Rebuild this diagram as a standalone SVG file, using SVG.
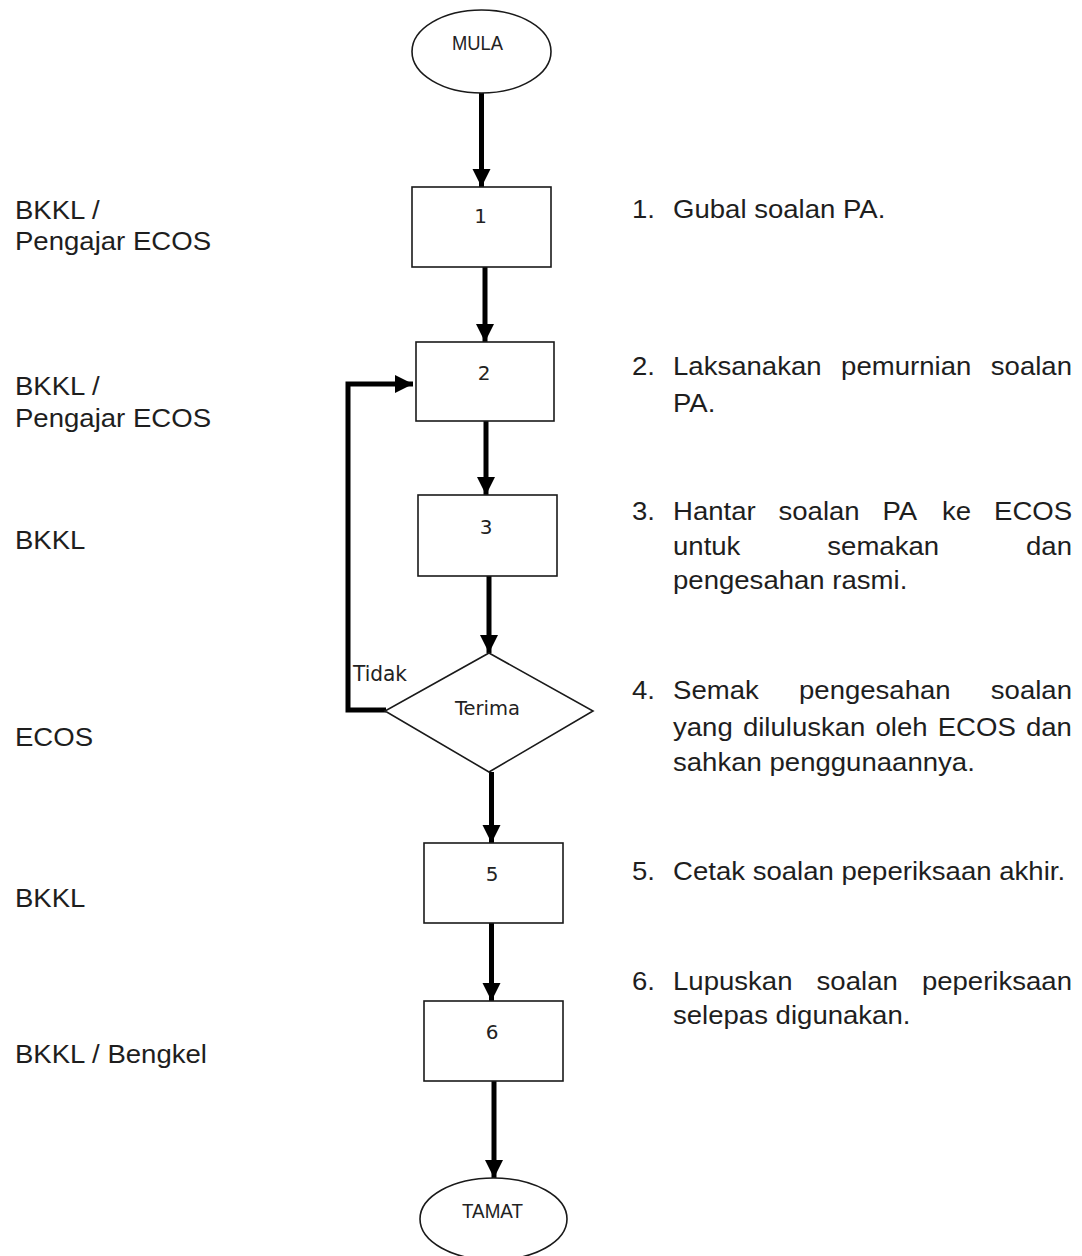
<svg xmlns="http://www.w3.org/2000/svg" width="1082" height="1256" viewBox="0 0 1082 1256">
  <style>
    .shape { fill: #ffffff; stroke: #1a1a1a; stroke-width: 1.6; }
    .flow { fill: none; stroke: #000000; stroke-width: 5; marker-end: url(#head); }
    .num { font-family: "DejaVu Sans", "Liberation Sans", sans-serif; font-size: 20px; fill: #222222; text-anchor: middle; }
    .term { font-family: "Liberation Sans", Arial, sans-serif; font-size: 20px; fill: #222222; text-anchor: middle; }
    .side { font-family: "Liberation Sans", Arial, sans-serif; font-size: 26px; fill: #1e1e1e; }
  </style>
  <defs>
    <marker id="head" markerUnits="userSpaceOnUse" markerWidth="20" markerHeight="20" refX="18" refY="9" orient="auto">
      <path d="M0,0 L18,9 L0,18 Z" fill="#000000"/>
    </marker>
  </defs>

  <rect width="1082" height="1256" fill="#ffffff"/>

  <!-- connectors -->
  <g id="connectors">
    <line class="flow" x1="481.5" y1="93" x2="481.5" y2="187"/>
    <line class="flow" x1="485" y1="267" x2="485" y2="342"/>
    <line class="flow" x1="486" y1="421" x2="486" y2="495"/>
    <line class="flow" x1="489" y1="576" x2="489" y2="653"/>
    <line class="flow" x1="491.5" y1="772" x2="491.5" y2="843"/>
    <line class="flow" x1="491.5" y1="923" x2="491.5" y2="1001"/>
    <line class="flow" x1="494" y1="1081" x2="494" y2="1178"/>
    <!-- rejection loop back to step 2 -->
    <polyline class="flow" points="386,710 348,710 348,384 413,384"/>
    <text x="353" y="681" font-family="'DejaVu Sans', 'Liberation Sans', sans-serif" font-size="22" fill="#222222" textLength="54" lengthAdjust="spacingAndGlyphs">Tidak</text>
  </g>

  <!-- flow nodes -->
  <g id="mula">
    <ellipse class="shape" cx="481.5" cy="51.5" rx="69.5" ry="41.5"/>
    <text class="term" x="477.5" y="50" font-size="19" textLength="51" lengthAdjust="spacingAndGlyphs">MULA</text>
  </g>
  <g id="step1">
    <rect class="shape" x="412" y="187" width="139" height="80"/>
    <text class="num" x="480.5" y="223">1</text>
  </g>
  <g id="step2">
    <rect class="shape" x="416" y="342" width="138" height="79"/>
    <text class="num" x="484" y="380">2</text>
  </g>
  <g id="step3">
    <rect class="shape" x="418" y="495" width="139" height="81"/>
    <text class="num" x="486" y="534">3</text>
  </g>
  <g id="terima">
    <polygon class="shape" points="489,653 593,711 489,772 385,711"/>
    <text class="num" x="487.5" y="715" textLength="65" lengthAdjust="spacingAndGlyphs">Terima</text>
  </g>
  <g id="step5">
    <rect class="shape" x="424" y="843" width="139" height="80"/>
    <text class="num" x="492" y="881">5</text>
  </g>
  <g id="step6">
    <rect class="shape" x="424" y="1001" width="139" height="80"/>
    <text class="num" x="492" y="1039">6</text>
  </g>
  <g id="tamat">
    <ellipse class="shape" cx="493.5" cy="1219" rx="73.5" ry="41"/>
    <text class="term" x="492.5" y="1218" font-size="20" textLength="61" lengthAdjust="spacingAndGlyphs">TAMAT</text>
  </g>

  <!-- responsible parties (left column) -->
  <g id="responsibility" transform="scale(1.06 1)">
    <text class="side" x="14.15" y="219">BKKL /</text>
    <text class="side" x="14.15" y="250">Pengajar ECOS</text>
    <text class="side" x="14.15" y="395">BKKL /</text>
    <text class="side" x="14.15" y="427">Pengajar ECOS</text>
    <text class="side" x="14.15" y="549">BKKL</text>
    <text class="side" x="14.15" y="746">ECOS</text>
    <text class="side" x="14.15" y="907">BKKL</text>
    <text class="side" x="14.15" y="1063">BKKL / Bengkel</text>
  </g>

  <!-- step descriptions (right column, justified lines set word by word) -->
  <g id="descriptions" transform="scale(1.06 1)">
    <text class="side" x="596.23" y="218">1.</text>
    <text class="side" x="634.91" y="218">Gubal soalan PA.</text>

    <text class="side" x="596.23" y="375">2.</text>
    <text class="side" y="375"><tspan x="634.91">Laksanakan</tspan><tspan x="793.49">pemurnian</tspan><tspan x="934.72">soalan</tspan></text>
    <text class="side" x="634.91" y="412">PA.</text>

    <text class="side" x="596.23" y="520">3.</text>
    <text class="side" y="520"><tspan x="634.91">Hantar</tspan><tspan x="734.43">soalan</tspan><tspan x="832.55">PA</tspan><tspan x="888.77">ke</tspan><tspan x="937.74">ECOS</tspan></text>
    <text class="side" y="555"><tspan x="634.91">untuk</tspan><tspan x="780.47">semakan</tspan><tspan x="967.92">dan</tspan></text>
    <text class="side" x="634.91" y="589">pengesahan rasmi.</text>

    <text class="side" x="596.23" y="699">4.</text>
    <text class="side" y="699"><tspan x="634.91">Semak</tspan><tspan x="753.77">pengesahan</tspan><tspan x="934.72">soalan</tspan></text>
    <text class="side" y="736"><tspan x="634.91">yang</tspan><tspan x="700.85">diluluskan</tspan><tspan x="825.94">oleh</tspan><tspan x="884.62">ECOS</tspan><tspan x="967.83">dan</tspan></text>
    <text class="side" x="634.91" y="771">sahkan penggunaannya.</text>

    <text class="side" x="596.23" y="880">5.</text>
    <text class="side" x="634.91" y="880">Cetak soalan peperiksaan akhir.</text>

    <text class="side" x="596.23" y="990">6.</text>
    <text class="side" y="990"><tspan x="634.91">Lupuskan</tspan><tspan x="770.38">soalan</tspan><tspan x="869.72">peperiksaan</tspan></text>
    <text class="side" x="634.91" y="1024">selepas digunakan.</text>
  </g>
</svg>
